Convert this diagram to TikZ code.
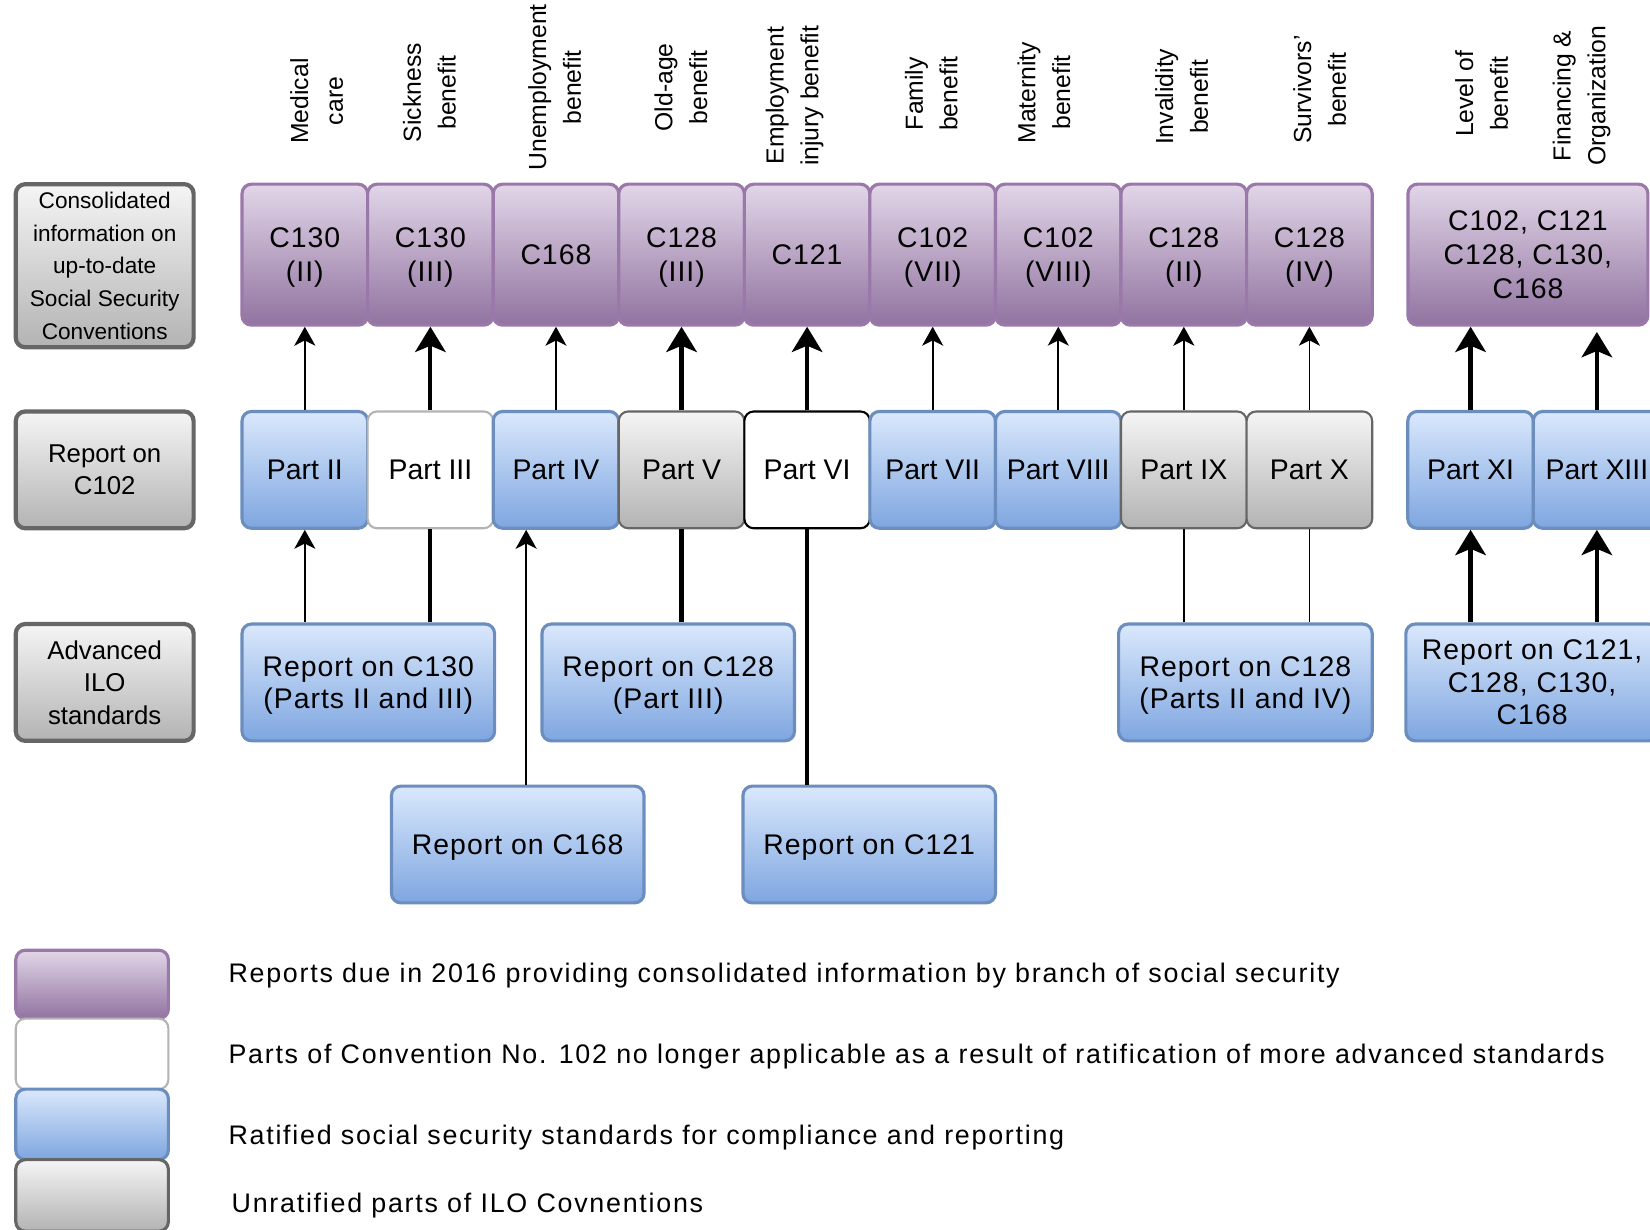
\documentclass[tikz,border=0pt]{standalone}
\usepackage{fontspec}
\setmainfont{Liberation Sans}
\newfontfamily\legfont{Liberation Sans}[LetterSpace=6.5]
\newfontfamily\widefont{Liberation Sans}[LetterSpace=3.5]
\usetikzlibrary{arrows.meta}
\definecolor{ptop}{HTML}{E2D6E8}
\definecolor{pbot}{HTML}{9173A0}
\definecolor{pborder}{HTML}{9A78AA}
\definecolor{btop}{HTML}{DAE8FC}
\definecolor{bbot}{HTML}{7EA6E0}
\definecolor{bborder}{HTML}{6C8EBF}
\definecolor{gtop}{HTML}{F5F5F5}
\definecolor{gbot}{HTML}{B3B3B3}
\definecolor{gborder}{HTML}{666666}
\definecolor{wborder}{HTML}{B3B3B3}
\tikzset{
  base/.style={rectangle, rounded corners=9pt, inner sep=0pt, align=center, text=black},
  pbox/.style={base, draw=pborder, line width=3pt, top color=ptop, bottom color=pbot},
  bbox/.style={base, draw=bborder, line width=3pt, top color=btop, bottom color=bbot},
  gbox/.style={base, draw=gborder, line width=2pt, top color=gtop, bottom color=gbot},
  wbox/.style={base, fill=white, draw=wborder, line width=2pt},
  lbox/.style={base, draw=gborder, line width=4pt, top color=gtop, bottom color=gbot,
    minimum width=169pt, font=\fontsize{24.5}{31}\selectfont},
  topsz/.style={minimum width=119.33pt, minimum height=134pt, text depth=0pt,
    font=\widefont\fontsize{27}{32}\selectfont},
  partsz/.style={minimum width=119.33pt, minimum height=111pt, font=\fontsize{27}{32}\selectfont},
  repsz/.style={minimum width=240pt, minimum height=111pt, text depth=0pt,
    font=\widefont\fontsize{27}{31}\selectfont},
  toplbl/.style={rotate=90, align=center, inner sep=0pt, font=\fontsize{23.5}{33}\selectfont},
  legtxt/.style={anchor=west, inner sep=0pt, font=\legfont\fontsize{25.5}{30}\selectfont},
  thinarr/.style={line width=1.7pt, -{Stealth[length=18pt, width=20pt, inset=5pt]}},
  thickarr/.style={line width=4pt, -{Stealth[length=24pt, width=29pt, inset=6pt]}},
  thinline/.style={line width=1.7pt},
  thickline/.style={line width=4pt}
}
\begin{document}
\begin{tikzpicture}[x=1pt,y=-1pt]
\useasboundingbox (0,0) rectangle (1568,1168);
\clip (0,0) rectangle (1568,1168);

% column header labels
\node[toplbl] (h1) at (301,96) {Medical\\care};
\node[toplbl] (h2) at (408,88) {Sickness\\benefit};
\node[toplbl] (h3) at (527,83) {Unemployment\\benefit};
\node[toplbl] (h4) at (647,83) {Old-age\\benefit};
\node[toplbl] (h5) at (755,91) {Employment\\injury benefit};
\node[toplbl] (h6) at (885,89) {Family\\benefit};
\node[toplbl] (h7) at (992,88) {Maternity\\benefit};
\node[toplbl] (h8) at (1123,92) {Invalidity\\benefit};
\node[toplbl] (h9) at (1254,85) {Survivors'\\benefit};
\node[toplbl] (h10) at (1408,89) {Level of\\benefit};
\node[toplbl] (h11) at (1503,91) {Financing \&\\Organization};

% row labels
\node[lbox, minimum height=155pt, font=\fontsize{21.5}{31}\selectfont] (l1) at (99.5,252.5)
  {Consolidated\\information on\\up-to-date\\Social Security\\Conventions};
\node[lbox, minimum height=111pt] (l2) at (99.5,446.5) {Report on\\C102};
\node[lbox, minimum height=111pt] (l3) at (99.5,648.5) {Advanced\\ILO\\standards};

% purple row
\node[pbox, topsz] (c1) at (289.67,242) {C130\\(II)};
\node[pbox, topsz] (c2) at (409,242) {C130\\(III)};
\node[pbox, topsz] (c3) at (528.33,242) {C168};
\node[pbox, topsz] (c4) at (647.67,242) {C128\\(III)};
\node[pbox, topsz] (c5) at (767,242) {C121};
\node[pbox, topsz] (c6) at (886.33,242) {C102\\(VII)};
\node[pbox, topsz] (c7) at (1005.67,242) {C102\\(VIII)};
\node[pbox, topsz] (c8) at (1125,242) {C128\\(II)};
\node[pbox, topsz] (c9) at (1244.33,242) {C128\\(IV)};
\node[pbox, topsz, minimum width=228pt] (cbig) at (1452,242) {C102, C121\\C128, C130,\\C168};

% parts row
\node[bbox, partsz] (p1) at (289.67,446.5) {Part II};
\node[wbox, partsz] (p2) at (409,446.5) {Part III};
\node[bbox, partsz] (p3) at (528.33,446.5) {Part IV};
\node[gbox, partsz] (p4) at (647.67,446.5) {Part V};
\node[wbox, partsz, draw=black] (p5) at (767,446.5) {Part VI};
\node[bbox, partsz] (p6) at (886.33,446.5) {Part VII};
\node[bbox, partsz] (p7) at (1005.67,446.5) {Part VIII};
\node[gbox, partsz] (p8) at (1125,446.5) {Part IX};
\node[gbox, partsz] (p9) at (1244.33,446.5) {Part X};
\node[bbox, partsz] (p11) at (1397.5,446.5) {Part XI};
\node[bbox, partsz, minimum width=121pt] (p12) at (1517.5,446.5) {Part XIII};

% reports row
\node[bbox, repsz] (r130) at (350,648.5) {Report on C130\\(Parts II and III)};
\node[bbox, repsz] (r128a) at (635,648.5) {Report on C128\\(Part III)};
\node[bbox, repsz, minimum width=241pt] (r128b) at (1183.5,648.5) {Report on C128\\(Parts II and IV)};
\node[bbox, repsz] (rall) at (1456,648.5) {Report on C121,\\C128, C130,\\C168};
\node[bbox, repsz] (r168) at (492,802.5) {Report on C168};
\node[bbox, repsz] (r121) at (826,802.5) {Report on C121};

% parts -> consolidated
\draw[thinarr] (p1.north) -- (c1.south);
\draw[thickarr] (p2.north) -- (c2.south);
\draw[thinarr] (p3.north) -- (c3.south);
\draw[thickarr] (p4.north) -- (c4.south);
\draw[thickarr] (p5.north) -- (c5.south);
\draw[thinarr] (p6.north) -- (c6.south);
\draw[thinarr] (p7.north) -- (c7.south);
\draw[thinarr] (p8.north) -- (c8.south);
\draw[thinarr] (p9.north) -- (c9.south);
\draw[thickarr] (p11.north) -- (p11.north |- cbig.south);
\draw[thickarr] (p12.north) -- ([yshift=-5pt]p12.north |- cbig.south);

% reports -> parts
\draw[thinarr] (r130.north -| p1.north) -- (p1.south);
\draw[thickline] (r130.north -| p2.north) -- (p2.south);
\draw[thinarr] ([xshift=8pt]r168.north) -- ([xshift=8pt]r168.north |- p3.south);
\draw[thickline] (r128a.north -| p4.north) -- (p4.south);
\draw[thickline] (r121.north -| p5.north) -- (p5.south);
\draw[thinline] (r128b.north -| p8.north) -- (p8.south);
\draw[thinline] (r128b.north -| p9.north) -- (p9.south);
\draw[thickarr] (rall.north -| p11.north) -- (p11.south);
\draw[thickarr] (rall.north -| p12.north) -- (p12.south);

% legend
\node[pbox, minimum width=145pt, minimum height=65pt] (k1) at (87.5,935.5) {};
\node[wbox, minimum width=145pt, minimum height=67pt] (k2) at (87.5,1001.5) {};
\node[bbox, minimum width=145pt, minimum height=67pt] (k3) at (87.5,1068.5) {};
\node[gbox, line width=3pt, minimum width=145pt, minimum height=68pt] (k4) at (87.5,1136) {};
\node[legtxt] (t1) at (217,927) {Reports due in 2016 providing consolidated information by branch of social security};
\node[legtxt] (t2) at (217,1004) {Parts of Convention No. 102 no longer applicable as a result of ratification of more advanced standards};
\node[legtxt] (t3) at (217,1081) {Ratified social security standards for compliance and reporting};
\node[legtxt] (t4) at (220,1146) {Unratified parts of ILO Covnentions};
\end{tikzpicture}
\end{document}
